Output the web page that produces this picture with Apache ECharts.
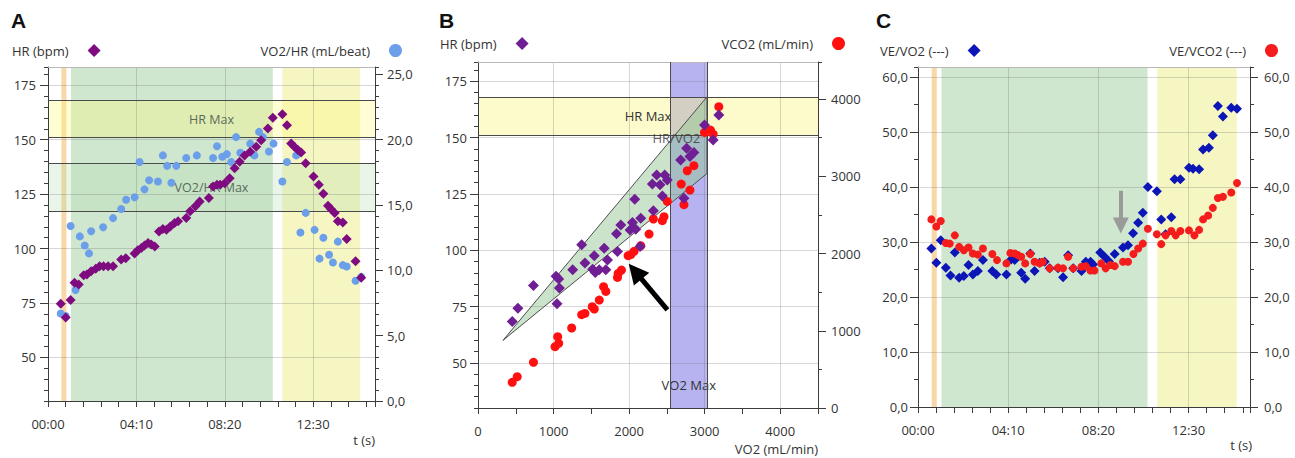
<!DOCTYPE html>
<html>
<head>
<meta charset="utf-8">
<title>CPET panels A B C</title>
<script src="https://cdn.jsdelivr.net/npm/echarts@6/dist/echarts.min.js"></script>
<style>
html,body{margin:0;padding:0;background:#fff;}
#chart{width:1295px;height:458px;}
</style>
</head>
<body>
<div id="chart"></div>
<script>
// ================= DATA =================
// Panel A : HR (bpm) and VO2/HR (mL/beat) versus time (s)
const aHrTime = [36,50,64,75,87,101,110,122,135,146,157,170,184,207,220,245,254,264,273,283,292,302,314,325,335,346,358,368,391,402,417,429,455,467,478,487,500,514,528,542,556,572,589,603,622,636,663,676,688,697,707,716,729,751,766,779,792,801,811,820,834,845,870,886];
const aHr = [74.7,68.3,76.4,84.3,83.5,87.7,88.1,89.6,90.7,91.9,91.9,91.9,91.9,95.0,95.6,97.7,99.2,100.3,101.4,102.6,101.9,101.0,107.9,109.0,108.7,110.2,111.7,112.5,114.0,117.1,119.4,121.6,123.2,128.5,129.3,129.3,130.0,132.3,136.9,139.9,142.7,144.5,146.8,149.8,155.2,160.1,161.7,156.7,148.3,146.8,145.3,144.1,139.2,133.1,129.3,125.2,119.7,118.1,116.3,112.5,112.0,104.4,94.2,86.6];
const aO2pTime = [36,50,64,78,90,104,116,122,156,184,207,221,245,259,273,286,311,325,337,349,363,391,421,467,478,493,506,518,532,544,572,584,597,608,625,638,663,676,702,714,729,754,768,779,795,806,820,834,845,870,886];
const aO2p = [6.7,6.5,13.4,8.5,12.6,11.9,11.3,13.0,13.3,14.0,14.7,15.4,15.6,18.3,16.2,16.9,16.8,18.8,18.0,16.7,18.0,18.6,18.8,18.6,19.5,18.7,18.9,18.3,20.2,19.0,19.7,18.8,20.6,20.2,19.1,19.7,16.8,18.3,18.8,12.9,14.4,13.1,10.9,12.5,11.2,10.6,12.2,10.4,10.3,9.2,9.5];

// Panel B : HR (bpm) and VCO2 (mL/min) versus VO2 (mL/min)
const bHrVo2 = [453,528,734,1033,1068,1077,1046,1253,1372,1415,1539,1517,1552,1605,1670,1692,1714,1833,1846,1890,2013,2044,2075,2088,2154,2145,2321,2308,2365,2409,2471,2506,2440,2682,2726,2761,2857,2805,2998,3112,3187];
const bHr = [68.4,74.3,84.4,88.4,87.2,83.2,76.3,91.3,102.4,94.3,97.5,91.6,90.1,91.3,100.9,91.3,95.7,107.3,99.4,111.2,109.0,112.3,122.6,109.3,114.2,101.7,117.5,129.4,133.4,129.0,133.4,131.2,124.1,140.0,123.1,145.2,143.3,141.6,155.5,148.9,160.0];
const bVco2Vo2 = [453,519,734,1020,1055,1068,1240,1372,1415,1512,1539,1605,1662,1692,1846,1855,1899,1987,2022,2066,2154,2264,2321,2440,2462,2506,2690,2726,2770,2805,2857,2998,3077,3112,3187];
const bVco2 = [332,406,591,794,923,837,1036,1208,1225,1312,1282,1398,1571,1510,1691,1743,1786,1972,1985,2028,2101,2252,2447,2425,2477,2675,2900,2632,3072,2822,3137,3568,3599,3547,3901];

// Panel C : VE/VO2 and VE/VCO2 versus time (s)
const cVeVo2Time = [37,51,63,77,90,102,114,127,140,152,166,180,206,217,245,258,268,286,297,311,323,337,351,365,388,402,416,430,453,465,478,485,505,517,529,545,568,582,596,610,623,637,662,674,686,702,711,727,751,762,779,790,806,817,831,845,868,884];
const cVeVo2 = [28.8,26.2,30.3,25.3,23.9,28.1,23.5,23.8,25.8,24.1,24.7,26.7,24.7,24.1,24.1,26.8,26.7,24.4,23.3,27.9,24.7,26.2,26.4,25.2,25.2,23.6,27.6,25.2,24.7,26.4,26.4,25.9,28.1,27.3,26.5,27.8,29.0,29.4,31.6,33.5,35.3,40.0,39.2,34.1,31.4,34.5,41.4,41.4,43.5,43.3,43.2,46.8,47.1,49.4,54.7,52.8,54.4,54.2];
const cVeVco2Time = [37,51,63,77,88,102,114,127,140,152,166,180,206,219,245,256,268,277,286,297,311,323,337,346,365,388,402,416,430,453,465,478,489,508,520,533,545,568,582,597,610,623,637,662,674,686,702,714,727,751,766,779,790,804,817,831,845,868,884];
const cVeVco2 = [34.1,32.8,33.8,29.8,29.7,31.2,29.1,28.5,29.0,27.9,27.7,28.8,27.8,26.7,26.1,28.0,27.9,27.6,27.3,26.1,27.8,26.4,26.1,26.4,25.2,25.3,25.2,27.3,25.2,25.5,25.6,24.8,24.8,26.1,25.2,25.8,25.6,26.4,26.4,27.8,28.8,29.7,32.4,31.4,29.6,31.2,32.0,31.2,32.0,32.1,31.2,32.2,34.1,34.8,36.2,38.0,38.2,39.0,40.7];

// Zones / reference values (data units)
const phaseBands = [[38,52],[65,636],[663,883]];      // rest / exercise / recovery (s)
const hrMaxBand = [151,168];                           // bpm
const o2PulseMaxBand = [14.5,18.2];                    // mL/beat
const vo2MaxBand = [2550,3030];                        // mL/min
const hrVo2Wedge = [[330,60],[3030,168],[3030,134]];   // VO2, HR
const hrVo2LabelAt = [2625,150];
const arrowB = [[2507,73.5],[2080,90.6]];              // VO2, HR
const arrowC = [[562,39.3],[562,33.0]];                // s, ratio

// Tick labels
const timeTicks = [0,250,500,750];
const hrTicks = [50,75,100,125,150,175];
const o2PulseTicks = [0,5,10,15,20,25];
const vo2Ticks = [0,1000,2000,3000,4000];
const vco2Ticks = [0,1000,2000,3000,4000];
const ratioTicks = [0,10,20,30,40,50,60];

// ================= HELPERS =================
const zip = (a,b) => a.map((v,i) => [v,b[i]]);
const FONT = 'Open Sans';
const AX = '#3c3c3c';
const GRIDLINE = 'rgba(110,110,110,0.28)';
const mmss = v => { const t = Math.round(v); const m = Math.floor(t/60), s = t%60; return String(m).padStart(2,'0') + ':' + String(s).padStart(2,'0'); };
const comma1 = v => (Math.round(v*10)/10).toFixed(1).replace('.', ',');
const intFmt = v => String(Math.round(v));
const maj = t => [t[0], t[t.length-1], t[1]-t[0]];

const grids = [], xAxes = [], yAxes = [];
function addGrid(l,t,w,h,extra){
  grids.push(Object.assign({left:l, top:t, width:w, height:h, containLabel:false, outerBoundsMode:'none', show:false, borderWidth:0}, extra||{}));
  return grids.length-1;
}
const lblStyle = (margin, fmt) => ({show:true, margin:margin, formatter:fmt, color:'#333', fontSize:13, lineHeight:14, fontFamily:FONT});

function buildPanel(p){
  const g = addGrid(p.L,p.T,p.W,p.H,{show:true, backgroundColor:'#ffffff', borderWidth:0});
  const ix = xAxes.length;
  xAxes.push({gridIndex:g, type:'value', position:'bottom', min:p.x[0], max:p.x[1], interval:p.x[2],
    axisLine:{show:true, onZero:false, lineStyle:{color:AX, width:1}},
    axisTick:{show:true, length:6, lineStyle:{color:AX}}, axisLabel:{show:false}, splitLine:{show:false}, z:3});
  xAxes.push({gridIndex:g, type:'value', position:'top', min:p.x[0], max:p.x[1],
    axisLine:{show:true, onZero:false, lineStyle:{color:'#b9b9b9', width:1}},
    axisTick:{show:false}, axisLabel:{show:false}, splitLine:{show:false}, z:3});
  const iyl = yAxes.length;
  yAxes.push({gridIndex:g, type:'value', position:'left', min:p.yl[0], max:p.yl[1], interval:p.yl[2],
    axisLine:{show:true, onZero:false, lineStyle:{color:AX, width:1}},
    axisTick:{show:true, length:4, lineStyle:{color:AX}}, axisLabel:{show:false}, splitLine:{show:false}, z:3});
  yAxes.push({gridIndex:g, type:'value', position:'right', min:p.yr[0], max:p.yr[1], interval:p.yr[2],
    axisLine:{show:true, onZero:false, lineStyle:{color:AX, width:1}},
    axisTick:{show:true, length:4, lineStyle:{color:AX}}, axisLabel:{show:false}, splitLine:{show:false}, z:3});

  // major ticks / labels / grid lines (left)
  const mL = maj(p.ylTicks), sL = p.yl[1]-p.yl[0];
  const gL = addGrid(p.L, p.T + p.H*(p.yl[1]-mL[1])/sL, p.W, p.H*(mL[1]-mL[0])/sL);
  xAxes.push({gridIndex:gL, type:'value', min:p.x[0], max:p.x[1], show:false});
  yAxes.push({gridIndex:gL, type:'value', position:'left', min:mL[0], max:mL[1], interval:mL[2],
    axisLine:{show:false, onZero:false}, axisTick:{show:true, length:8, lineStyle:{color:AX}},
    axisLabel:lblStyle(p.ylMargin, p.ylFmt), splitLine:{show:true, lineStyle:{color:GRIDLINE, width:1}}, z:2});
  // right
  const mR = maj(p.yrTicks), sR = p.yr[1]-p.yr[0];
  const gR = addGrid(p.L, p.T + p.H*(p.yr[1]-mR[1])/sR, p.W, p.H*(mR[1]-mR[0])/sR);
  xAxes.push({gridIndex:gR, type:'value', min:p.x[0], max:p.x[1], show:false});
  yAxes.push({gridIndex:gR, type:'value', position:'right', min:mR[0], max:mR[1], interval:mR[2],
    axisLine:{show:false, onZero:false}, axisTick:{show:true, length:8, lineStyle:{color:AX}},
    axisLabel:lblStyle(p.yrMargin, p.yrFmt), splitLine:{show:false}, z:2});
  // x
  const mX = maj(p.xTicks), sX = p.x[1]-p.x[0];
  const gX = addGrid(p.L + p.W*(mX[0]-p.x[0])/sX, p.T, p.W*(mX[1]-mX[0])/sX, p.H);
  yAxes.push({gridIndex:gX, type:'value', min:0, max:1, show:false});
  xAxes.push({gridIndex:gX, type:'value', position:'bottom', min:mX[0], max:mX[1], interval:mX[2],
    axisLine:{show:false, onZero:false}, axisTick:{show:false},
    axisLabel:lblStyle(p.xMargin, p.xFmt), splitLine:{show:true, lineStyle:{color:GRIDLINE, width:1}}, z:2});
  return {x:ix, yl:iyl, yr:iyl+1};
}

const A = buildPanel({L:48, T:67, W:327, H:334, x:[0,925,50], xTicks:timeTicks, xFmt:mmss, xMargin:16,
  yl:[30,183.4,5], ylTicks:hrTicks, ylFmt:intFmt, ylMargin:12,
  yr:[0,(183.4-30)/6,5/6], yrTicks:o2PulseTicks, yrFmt:comma1, yrMargin:12});
const B = buildPanel({L:478, T:62, W:340, H:346, x:[0,4500,500], xTicks:vo2Ticks, xFmt:intFmt, xMargin:16,
  yl:[30,183.5,5], ylTicks:hrTicks, ylFmt:intFmt, ylMargin:11,
  yr:[0,4480,500], yrTicks:vco2Ticks, yrFmt:intFmt, yrMargin:13});
const C = buildPanel({L:918, T:67, W:332, H:340, x:[0,920,50], xTicks:timeTicks, xFmt:mmss, xMargin:16,
  yl:[0,61.8,5], ylTicks:ratioTicks, ylFmt:comma1, ylMargin:10,
  yr:[0,61.8,5], yrTicks:ratioTicks, yrFmt:comma1, yrMargin:14});

const phaseColors = ['#f8d8a6','#d0e7cf','#f6f6c3'];
const edgeLine = {color:'#4a4a4a', type:'solid', width:1};
function holder(ax, yKey, extra){
  return Object.assign({type:'scatter', xAxisIndex:ax.x, yAxisIndex:ax[yKey], data:[], silent:true, z:1}, extra);
}
function phaseSeries(ax){
  return holder(ax,'yl',{markArea:{silent:true, z:1,
    data: phaseBands.map((b,i) => [{xAxis:b[0], itemStyle:{color:phaseColors[i]}},{xAxis:b[1]}])}});
}
const bandLabel = (color,size) => ({show:true, position:'inside', color:color, fontSize:size, fontFamily:FONT});
function arrowLine(pts, color, width, head){
  return {silent:true, symbol:['none','triangle'], symbolSize:head, label:{show:false},
    itemStyle:{color:color}, lineStyle:{color:color, type:'solid', width:width, opacity:1},
    data:[[{coord:pts[0]},{coord:pts[1]}]]};
}

const series = [
  // ----- A -----
  phaseSeries(A),
  holder(A,'yl',{markArea:{silent:true, z:1.1, itemStyle:{color:'rgba(255,250,120,0.33)'}, label:bandLabel('#5a6b5a',12.5),
      data:[[{yAxis:hrMaxBand[0], name:'HR Max'},{yAxis:hrMaxBand[1]}]]},
    markLine:{silent:true, symbol:'none', label:{show:false}, lineStyle:edgeLine, data:[{yAxis:hrMaxBand[0]},{yAxis:hrMaxBand[1]}]}}),
  holder(A,'yr',{markArea:{silent:true, z:1.1, itemStyle:{color:'rgba(170,215,170,0.25)'}, label:bandLabel('#5a6b5a',12.5),
      data:[[{yAxis:o2PulseMaxBand[0], name:'VO2/HR Max'},{yAxis:o2PulseMaxBand[1]}]]},
    markLine:{silent:true, symbol:'none', label:{show:false}, lineStyle:edgeLine, data:[{yAxis:o2PulseMaxBand[0]},{yAxis:o2PulseMaxBand[1]}]}}),
  {name:'VO2/HR (mL/beat)', type:'scatter', xAxisIndex:A.x, yAxisIndex:A.yr, symbol:'circle', symbolSize:8,
    itemStyle:{color:'#6c9fe9', opacity:1}, data:zip(aO2pTime,aO2p), z:6},
  {name:'HR (bpm)', type:'scatter', xAxisIndex:A.x, yAxisIndex:A.yl, symbol:'diamond', symbolSize:10,
    itemStyle:{color:'#7e0b7f', opacity:1}, data:zip(aHrTime,aHr), z:7},

  // ----- B -----
  holder(B,'yl',{markArea:{silent:true, z:1, itemStyle:{color:'#b7b3f1'},
      label:{show:true, position:'insideBottom', distance:17, color:'#333', fontSize:13, fontFamily:FONT},
      data:[[{xAxis:vo2MaxBand[0], name:'VO2 Max'},{xAxis:vo2MaxBand[1]}]]},
    markLine:{silent:true, symbol:'none', label:{show:false}, lineStyle:edgeLine, data:[{xAxis:vo2MaxBand[0]},{xAxis:vo2MaxBand[1]}]}}),
  holder(B,'yl',{markArea:{silent:true, z:1.1, itemStyle:{color:'rgba(250,246,130,0.42)'}, label:bandLabel('#333',13),
      data:[[{yAxis:hrMaxBand[0], name:'HR Max'},{yAxis:hrMaxBand[1]}]]},
    markLine:{silent:true, symbol:'none', label:{show:false}, lineStyle:edgeLine, data:[{yAxis:hrMaxBand[0]},{yAxis:hrMaxBand[1]}]}}),
  {type:'custom', xAxisIndex:B.x, yAxisIndex:B.yl, silent:true, z:1.5, clip:true, data:hrVo2Wedge,
    renderItem:function(params, api){
      if (params.dataIndex !== 0) return null;
      return {type:'polygon', shape:{points:hrVo2Wedge.map(p => api.coord(p))},
        style:{fill:'rgba(150,200,150,0.5)', stroke:'#4d4d4d', lineWidth:1}};
    }},
  {name:'VCO2 (mL/min)', type:'scatter', xAxisIndex:B.x, yAxisIndex:B.yr, symbol:'circle', symbolSize:9,
    itemStyle:{color:'#ff0f0f', opacity:1}, data:zip(bVco2Vo2,bVco2), z:6},
  {name:'HR B', type:'scatter', xAxisIndex:B.x, yAxisIndex:B.yl, symbol:'diamond', symbolSize:11,
    itemStyle:{color:'#6f1f93', opacity:1}, data:zip(bHrVo2,bHr), z:7},
  {type:'scatter', xAxisIndex:B.x, yAxisIndex:B.yl, silent:true, symbolSize:0, z:8, data:[hrVo2LabelAt],
    label:{show:true, position:'inside', formatter:'HR/VO2', color:'#333', fontSize:13, fontFamily:FONT},
    markLine:arrowLine(arrowB, '#000000', 5, 20)},

  // ----- C -----
  phaseSeries(C),
  {name:'VE/VO2 (---)', type:'scatter', xAxisIndex:C.x, yAxisIndex:C.yl, symbol:'diamond', symbolSize:10,
    itemStyle:{color:'#0c15b5', opacity:1}, data:zip(cVeVo2Time,cVeVo2), z:6},
  {name:'VE/VCO2 (---)', type:'scatter', xAxisIndex:C.x, yAxisIndex:C.yr, symbol:'circle', symbolSize:8,
    itemStyle:{color:'#f41c1c', opacity:1}, data:zip(cVeVco2Time,cVeVco2), z:7},
  holder(C,'yl',{markLine:arrowLine(arrowC, '#9a9a9a', 4, 16)})
];

const legendBase = {orient:'horizontal', align:'right', padding:0, itemWidth:13, itemHeight:13, selectedMode:false,
  formatter: n => n === 'HR B' ? 'HR (bpm)' : n,
  textStyle:{fontFamily:FONT, fontSize:13, color:'#333', padding:[0,14,0,0]}};
const L = o => Object.assign({}, legendBase, o);
const legends = [
  L({left:12, top:44, data:[{name:'HR (bpm)', icon:'diamond'}]}),
  L({right:893, top:44, data:[{name:'VO2/HR (mL/beat)', icon:'circle'}]}),
  L({left:440, top:37, data:[{name:'HR B', icon:'diamond'}]}),
  L({right:450, top:37, data:[{name:'VCO2 (mL/min)', icon:'circle'}]}),
  L({left:880, top:44, data:[{name:'VE/VO2 (---)', icon:'diamond'}]}),
  L({right:17, top:44, data:[{name:'VE/VCO2 (---)', icon:'circle'}]})
];

const letter = (t,left) => ({text:t, left:left, top:10, padding:0,
  textStyle:{fontFamily:'Liberation Sans', fontWeight:'bold', fontSize:21, color:'#111'}});
const axName = (t,right,top) => ({text:t, right:right, top:top, padding:0,
  textStyle:{fontFamily:FONT, fontWeight:'normal', fontSize:13, lineHeight:14, color:'#333'}});

const option = {
  backgroundColor:'#ffffff',
  animation:false,
  title:[letter('A',11), letter('B',439), letter('C',876),
    axName('t (s)',920,433), axName('VO2 (mL/min)',477,442), axName('t (s)',43,438)],
  legend:legends,
  grid:grids, xAxis:xAxes, yAxis:yAxes, series:series
};
const chart = echarts.init(document.getElementById('chart'), null, {renderer:'svg'});
chart.setOption(option);
</script>
</body>
</html>
